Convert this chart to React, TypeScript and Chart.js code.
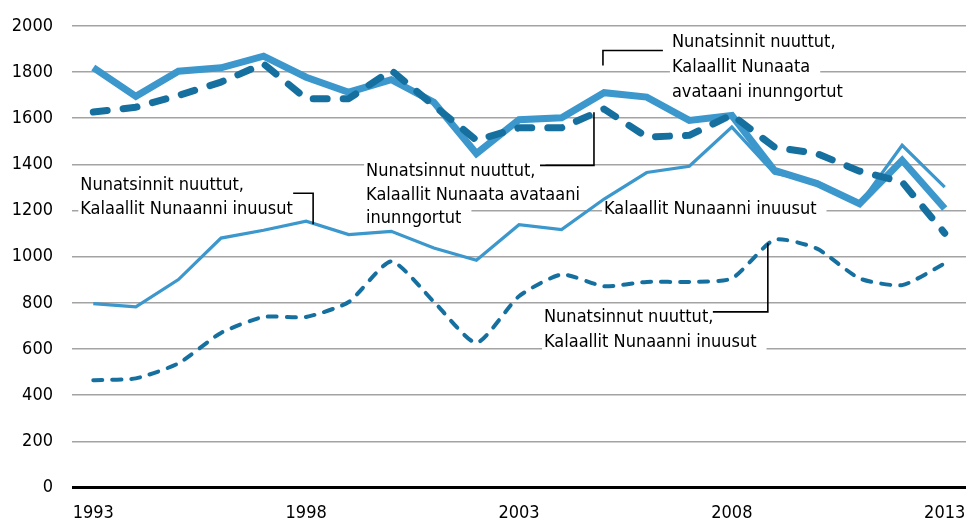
import React, { useEffect, useRef } from 'react';
import { Chart, registerables } from 'chart.js';

Chart.register(...registerables);

const years = [1993, 1994, 1995, 1996, 1997, 1998, 1999, 2000, 2001, 2002, 2003, 2004, 2005, 2006, 2007, 2008, 2009, 2010, 2011, 2012, 2013];
const tickYears = [1993, 1998, 2003, 2008, 2013];
const yMin = 0;
const yMax = 2000;
const yStep = 200;

// Nunatsinnit nuuttut, Kalaallit Nunaata avataani inunngortut (thick solid)
const emigBornOutside = [1820, 1695, 1804, 1819, 1869, 1778, 1713, 1767, 1670, 1447, 1594, 1602, 1711, 1692, 1591, 1612, 1374, 1317, 1230, 1418, 1209];
// Nunatsinnut nuuttut, Kalaallit Nunaata avataani inunngortut (thick dashed)
const immigBornOutside = [1627, 1648, 1699, 1757, 1836, 1685, 1685, 1808, 1655, 1505, 1559, 1559, 1640, 1519, 1526, 1615, 1475, 1447, 1371, 1324, 1102];
// Nunatsinnit nuuttut, Kalaallit Nunaanni inuusut (thin solid)
const emigBornGreenland = [797, 783, 901, 1081, 1115, 1154, 1096, 1110, 1038, 985, 1139, 1118, 1250, 1365, 1392, 1562, 1362, 1325, 1228, 1483, 1302];
// Nunatsinnut nuuttut, Kalaallit Nunaanni inuusut (thin dashed)
const immigBornGreenland = [465, 473, 538, 670, 739, 739, 804, 980, 805, 627, 829, 923, 872, 891, 891, 906, 1074, 1035, 906, 877, 971];

const FONT_FAMILY = "'DejaVu Sans Condensed', 'Liberation Sans Narrow', 'DejaVu Sans', sans-serif";
const FONT_SIZE = 18;

type Note = {
  lines: string[];
  x: number; // year units
  y: number; // value of first baseline
  lh: number; // px between lines
  pad?: number[]; // extra white to the right of each line
  leader?: [number, number][];
};

const notes: Note[] = [
  {
    lines: ['Nunatsinnit nuuttut,', 'Kalaallit Nunaanni inuusut'],
    x: 1992.695, y: 1288, lh: 23.3,
    pad: [10, 72],
    leader: [[1997.695, 1275], [1998.164, 1275], [1998.164, 1141]],
  },
  {
    lines: ['Nunatsinnut nuuttut,', 'Kalaallit Nunaata avataani', 'inunngortut'],
    x: 1999.408, y: 1348, lh: 23.5,
    leader: [[2003.493, 1396], [2004.761, 1396], [2004.761, 1626]],
  },
  {
    lines: ['Nunatsinnit nuuttut,', 'Kalaallit Nunaata', 'avataani inunngortut'],
    x: 2006.592, y: 1908, lh: 25,
    leader: [[2006.38, 1894], [2004.972, 1894], [2004.972, 1829]],
  },
  {
    lines: ['Kalaallit Nunaanni inuusut'],
    x: 2004.995, y: 1187, lh: 25,
  },
  {
    lines: ['Nunatsinnut nuuttut,', 'Kalaallit Nunaanni inuusut'],
    x: 2003.587, y: 716, lh: 25,
    leader: [[2007.554, 761], [2008.845, 761], [2008.845, 1058]],
  },
];

const LIGHT = '#3b97cc';
const DARK = '#15709f';

const notesPlugin = {
  id: 'notes',
  beforeDatasetsDraw(chart: any) {
    const { ctx } = chart;
    const xs = chart.scales.x;
    const ys = chart.scales.y;
    ctx.save();
    ctx.font = `${FONT_SIZE}px ${FONT_FAMILY}`;
    ctx.fillStyle = '#ffffff';
    notes.forEach((n) => {
      const px = xs.getPixelForValue(n.x - years[0]);
      const py = ys.getPixelForValue(n.y);
      n.lines.forEach((line, i) => {
        const w = ctx.measureText(line).width;
        const b = py + i * n.lh;
        const extra = n.pad ? n.pad[i] : 10;
        ctx.fillRect(px - 2, b - 17, w + 2 + extra, 23);
      });
    });
    ctx.restore();
  },
  afterDatasetsDraw(chart: any) {
    const { ctx } = chart;
    const xs = chart.scales.x;
    const ys = chart.scales.y;
    ctx.save();
    ctx.font = `${FONT_SIZE}px ${FONT_FAMILY}`;
    ctx.fillStyle = '#000000';
    ctx.textAlign = 'left';
    ctx.textBaseline = 'alphabetic';
    notes.forEach((n) => {
      const px = xs.getPixelForValue(n.x - years[0]);
      const py = ys.getPixelForValue(n.y);
      n.lines.forEach((line, i) => {
        ctx.fillText(line, px, py + i * n.lh);
      });
      if (n.leader) {
        ctx.beginPath();
        ctx.strokeStyle = '#000000';
        ctx.lineWidth = 1.6;
        n.leader.forEach(([lx, ly], i) => {
          const X = xs.getPixelForValue(lx - years[0]);
          const Y = ys.getPixelForValue(ly);
          if (i === 0) ctx.moveTo(X, Y);
          else ctx.lineTo(X, Y);
        });
        ctx.stroke();
      }
    });
    ctx.restore();
  },
};

export default function App() {
  const ref = useRef<HTMLCanvasElement | null>(null);

  useEffect(() => {
    if (!ref.current) return;
    const chart = new Chart(ref.current, {
      type: 'line',
      data: {
        labels: years.map(String),
        datasets: [
          {
            label: 'Nunatsinnut nuuttut, Kalaallit Nunaata avataani inunngortut',
            data: immigBornOutside,
            borderColor: DARK,
            borderWidth: 7,
            borderDash: [14, 16],
            borderCapStyle: 'round',
            borderJoinStyle: 'round',
            pointRadius: 0,
            tension: 0,
            order: 1,
          },
          {
            label: 'Nunatsinnit nuuttut, Kalaallit Nunaata avataani inunngortut',
            data: emigBornOutside,
            borderColor: LIGHT,
            borderWidth: 7,
            borderJoinStyle: 'miter',
            pointRadius: 0,
            tension: 0,
            order: 2,
          },
          {
            label: 'Nunatsinnit nuuttut, Kalaallit Nunaanni inuusut',
            data: emigBornGreenland,
            borderColor: LIGHT,
            borderWidth: 3.2,
            pointRadius: 0,
            tension: 0,
            order: 3,
          },
          {
            label: 'Nunatsinnut nuuttut, Kalaallit Nunaanni inuusut',
            data: immigBornGreenland,
            borderColor: DARK,
            borderWidth: 4,
            borderDash: [9, 10],
            borderCapStyle: 'round',
            pointRadius: 0,
            tension: 0.2,
            order: 4,
          },
        ],
      },
      options: {
        responsive: false,
        animation: false,
        devicePixelRatio: 1,
        layout: { padding: { top: 26, right: 0, bottom: 0, left: 0 } },
        plugins: {
          legend: { display: false },
          tooltip: { enabled: false },
        },
        scales: {
          x: {
            type: 'category',
            offset: true,
            grid: { display: false, drawTicks: false },
            border: { display: false },
            ticks: {
              autoSkip: false,
              maxRotation: 0,
              padding: 15,
              color: '#000000',
              font: { family: FONT_FAMILY, size: FONT_SIZE },
              callback: (_v: any, i: number) => (tickYears.includes(years[i]) ? String(years[i]) : ''),
            },
            afterFit: (s: any) => { s.height = 35.5; s.paddingLeft = 0; s.paddingRight = 0; },
          },
          y: {
            min: yMin,
            max: yMax,
            grid: {
              drawTicks: false,
              color: (c: any) => (c.tick && c.tick.value === 0 ? '#000000' : '#a3a3a3'),
              lineWidth: (c: any) => (c.tick && c.tick.value === 0 ? 3 : 1.6),
            },
            border: { display: false },
            ticks: {
              stepSize: yStep,
              padding: 19,
              color: '#000000',
              font: { family: FONT_FAMILY, size: FONT_SIZE },
              callback: (v: any) => String(v),
            },
            afterFit: (s: any) => { s.width = 72; s.paddingTop = 0; s.paddingBottom = 0; },
          },
        },
      },
      plugins: [notesPlugin],
    });
    return () => chart.destroy();
  }, []);

  return (
    <div style={{ position: 'absolute', left: 0, top: 0, width: 966, height: 523, background: '#fff' }}>
      <canvas ref={ref} width={966} height={523} />
    </div>
  );
}
